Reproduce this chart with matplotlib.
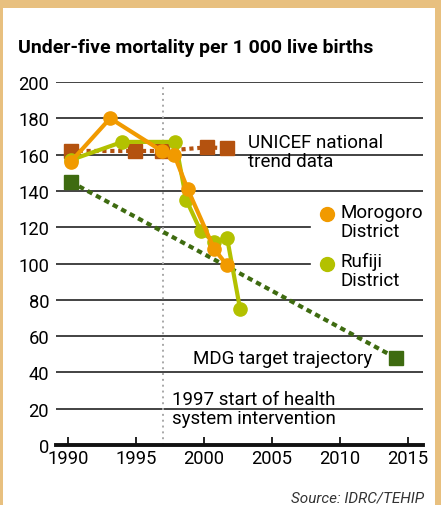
"""Under-five mortality: Morogoro and Rufiji districts vs UNICEF trend and MDG target."""

import matplotlib

matplotlib.use("Agg")
import matplotlib.pyplot as plt
from matplotlib.patches import Rectangle

plt.rcParams["font.family"] = ["Roboto", "DejaVu Sans"]

# Data.
morogoro_years = [1990.2, 1993.1, 1996.9, 1997.8, 1998.8, 2000.75, 2001.7]
morogoro_values = [156, 180, 162, 160, 141, 108, 99]

rufiji_years = [1990.2, 1994.0, 1997.9, 1998.7, 1999.75, 2000.75, 2001.7, 2002.65]
rufiji_values = [157, 167, 167, 135, 118, 112, 114, 75]

unicef_years = [1990.2, 1994.9, 1996.9, 2000.2, 2001.7]
unicef_values = [162, 162, 162, 164, 163.5]

mdg_years = [1990.2, 2014.1]
mdg_values = [145, 48]

intervention_year = 1997
y_ticks = [0, 20, 40, 60, 80, 100, 120, 140, 160, 180, 200]
x_ticks = [1990, 1995, 2000, 2005, 2010, 2015]
short_grid = [100, 120]  # gridlines cut short to make room for the legend

ORANGE = "#F19A00"
LIME = "#B3C100"
BROWN = "#B4520F"
DKGREEN = "#3E6B10"
TAN = "#E8C07F"
FS = 13.5
LS = 1.08

fig = plt.figure(figsize=(4.41, 5.06), dpi=100)
fig.patch.set_facecolor("white")

# Tan frame around the panel.
W, H = 441, 506
for x0, y0, w, h in [(0, H - 9, W, 9), (0, 0, 3, H), (W - 6, 0, 6, H)]:
    fig.patches.append(Rectangle((x0 / W, y0 / H), w / W, h / H,
                                 transform=fig.transFigure, color=TAN, lw=0))

ax = fig.add_axes([56 / W, 1 - 446 / H, (423 - 56) / W, (446 - 83) / H])
ax.set_xlim(1989.12, 2016.1)
ax.set_ylim(0, 200)
for s in ax.spines.values():
    s.set_visible(False)

# Horizontal gridlines.
for v in y_ticks[1:]:
    xmax = 0.692 if v in short_grid else 1
    ax.axhline(v, xmax=xmax, color="#222222", lw=1.2, zorder=1)
ax.axhline(0, color="#111111", lw=2.8, zorder=6, clip_on=False)

ax.set_yticks(y_ticks)
ax.set_xticks(x_ticks)
ax.tick_params(axis="y", length=0, labelsize=13.2, pad=5)
ax.tick_params(axis="x", direction="in", length=6, width=1.3, color="#111111",
               labelsize=13.2, pad=3)

# 1997 intervention marker.
ax.plot([intervention_year, intervention_year], [0, 199], color="#A8A8A8",
        lw=1.4, ls=(0, (1, 2)), zorder=1)

ax.plot(mdg_years, mdg_values, color=DKGREEN, lw=3, ls=(0, (1.3, 1)),
        marker="s", ms=10.5, markevery=[0, 1], zorder=2, clip_on=False)
ax.plot(unicef_years, unicef_values, color=BROWN, lw=3, ls=(0, (1, 0.9)),
        marker="s", ms=10.5, zorder=3, clip_on=False)
ax.plot(rufiji_years, rufiji_values, color=LIME, lw=3, marker="o", ms=9.5,
        zorder=4, clip_on=False)
ax.plot(morogoro_years, morogoro_values, color=ORANGE, lw=3, marker="o", ms=9.5,
        zorder=5, clip_on=False)

# Legend drawn by hand.
ax.plot([2009.05], [127], marker="o", ms=10, color=ORANGE, clip_on=False)
ax.plot([2009.05], [100], marker="o", ms=10, color=LIME, clip_on=False)
ax.text(2010.0, 123, "Morogoro\nDistrict", fontsize=FS, va="center", ha="left",
        linespacing=LS, zorder=7)
ax.text(2010.0, 96, "Rufiji\nDistrict", fontsize=FS, va="center", ha="left",
        linespacing=LS, zorder=7)

ax.text(2003.25, 161.5, "UNICEF national\ntrend data", fontsize=FS,
        va="center", ha="left", linespacing=LS, zorder=7)
ax.text(2012.4, 48, "MDG target trajectory", fontsize=FS, va="center",
        ha="right", zorder=7)
ax.text(1997.65, 20, "1997 start of health\nsystem intervention",
        fontsize=FS, va="center", ha="left", linespacing=LS, zorder=7)

fig.text(18 / W, 1 - 48 / H, "Under-five mortality per 1 000 live births",
         fontsize=14, fontweight="bold", va="center", ha="left")
fig.text(424 / W, 1 - 499 / H, "Source: IDRC/TEHIP", fontsize=11,
         style="italic", color="#333333", va="center", ha="right")

fig.savefig("out.png", dpi=100)
